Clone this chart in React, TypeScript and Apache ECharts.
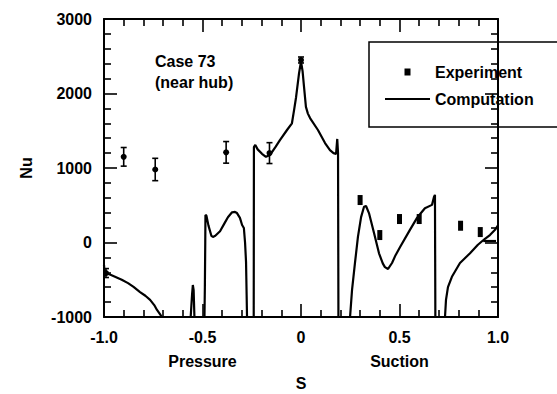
import React, { useEffect, useRef } from "react";
import * as echarts from "echarts";

// Axis ticks / labels
const xMin = -1;
const xMax = 1;
const xInterval = 0.5;
const yMin = -1000;
const yMax = 3000;
const yInterval = 1000;
const xTickLabels: Record<string, string> = { "-1": "-1.0", "-0.5": "-0.5", "0": "0", "0.5": "0.5", "1": "1.0" };
const sideLabels: Record<string, string> = { "-0.5": "Pressure", "0.5": "Suction" };

// Experiment (s, Nu, error half-height)
const expS = [-0.99, -0.9, -0.74, -0.38, -0.16, 0.0];
const expNu = [-410, 1150, 980, 1210, 1200, 2450];
const expErr = [60, 125, 150, 145, 140, 40];
// Suction-side experiment points (drawn as small blocks)
const expS2 = [0.3, 0.4, 0.5, 0.6, 0.81, 0.91];
const expNu2 = [570, 100, 315, 315, 225, 140];

// Computation
const compS = [
  -1.0, -0.997, -0.97, -0.944, -0.91, -0.878, -0.85, -0.817, -0.79, -0.766, -0.745, -0.731, -0.715, -0.706,
  -0.56, -0.553, -0.549, -0.545, -0.541,
  -0.49, -0.488, -0.486, -0.485, -0.48, -0.47, -0.455, -0.447, -0.435, -0.411, -0.39, -0.371, -0.35, -0.335,
  -0.325, -0.31, -0.299, -0.29, -0.284, -0.279, -0.276, -0.274,
  -0.24, -0.239, -0.232, -0.22, -0.198, -0.178, -0.157, -0.13, -0.107, -0.071, -0.046, -0.035, -0.025, -0.01,
  0.0, 0.008, 0.015, 0.025, 0.035, 0.046, 0.086, 0.122, 0.147, 0.165, 0.178, 0.184, 0.188, 0.19,
  0.249, 0.259, 0.274, 0.289, 0.305, 0.32, 0.33, 0.345, 0.371, 0.396, 0.415, 0.426, 0.442, 0.462, 0.48, 0.503,
  0.553, 0.589, 0.61, 0.629, 0.665, 0.675, 0.68, 0.682,
  0.731, 0.736, 0.746, 0.766, 0.807, 0.858, 0.898, 0.934, 0.959, 0.985, 1.0,
];
const compNu = [
  -300, -410, -430, -460, -500, -545, -595, -665, -715, -770, -840, -905, -965, -1000,
  -1000, -700, -570, -640, -1000,
  -1000, -600, 0, 370, 360, 230, 90, 75, 90, 150, 250, 340, 405, 410,
  395, 330, 235, 195, 0, -260, -700, -1000,
  -1000, 1280, 1310, 1250, 1190, 1150, 1175, 1280, 1375, 1510, 1600, 1780, 1950, 2270,
  2430, 2300, 2100, 1820, 1730, 1670, 1510, 1335, 1240, 1200, 1190, 1390, 1200, -1000,
  -1000, -640, -275, 75, 340, 480, 490, 395, 125, -145, -280, -330, -355, -275, -170, -60,
  170, 330, 400, 460, 505, 610, 640, -1000,
  -1000, -770, -600, -460, -275, -145, -30, 50, 100, 170, 230,
];
const branchS = [0.925, 0.99];
const branchNu = [20, 20];

const FONT = "'Liberation Sans', Arial, Helvetica, sans-serif";

export default function App() {
  const ref = useRef<HTMLDivElement>(null);
  useEffect(() => {
    if (!ref.current) return;
    const chart = echarts.init(ref.current, null, { renderer: "svg" });
    const key = (v: number) => String(Math.round(v * 100) / 100);
    const axisLine = () => ({ show: true, onZero: false, lineStyle: { color: "#000", width: 2 } });
    const tick = () => ({ show: true, inside: true, length: 13, lineStyle: { color: "#000", width: 1.6 } });
    const minor = () => ({ show: true, splitNumber: 5, length: 7, lineStyle: { color: "#000", width: 1.6 } });
    const labelStyle = () => ({ color: "#000", fontSize: 16, fontWeight: "bold" as const, fontFamily: FONT });

    const comp = compS.map((s, i) => [s, compNu[i]]);
    const branch = branchS.map((s, i) => [s, branchNu[i]]);
    const exp = expS.map((s, i) => [s, expNu[i], expErr[i]]);
    const exp2 = expS2.map((s, i) => ({ value: [s, expNu2[i]], symbol: "rect", symbolSize: [5, 10] }));

    chart.setOption({
      animation: false,
      backgroundColor: "#fff",
      textStyle: { fontFamily: FONT },
      title: {
        text: "Case 73\n(near hub)",
        left: 155,
        top: 51,
        padding: 0,
        textStyle: { ...labelStyle(), lineHeight: 21 },
      },
      legend: {
        orient: "vertical",
        left: 369,
        top: 42,
        padding: [22, 40, 20, 16],
        itemWidth: 45,
        itemHeight: 7,
        itemGap: 11,
        borderColor: "#000",
        borderWidth: 1.5,
        textStyle: labelStyle(),
        data: [
          { name: "Experiment", icon: "path://M0,0H6V7H0Z" },
          { name: "Computation", icon: "path://M0,0H45V2.2H0Z" },
        ],
      },
      grid: { left: 104, right: 59, top: 19, bottom: 77, outerBoundsMode: "none" },
      xAxis: [
        {
          type: "value",
          position: "bottom",
          min: xMin,
          max: xMax,
          interval: xInterval,
          name: "S",
          nameLocation: "middle",
          nameGap: 58,
          nameTextStyle: labelStyle(),
          axisLine: axisLine(),
          axisTick: tick(),
          minorTick: minor(),
          splitLine: { show: false },
          axisLabel: { ...labelStyle(), margin: 12, formatter: (v: number) => xTickLabels[key(v)] ?? "" },
        },
        {
          type: "value",
          position: "bottom",
          min: xMin,
          max: xMax,
          interval: xInterval,
          axisLine: { show: false, onZero: false },
          axisTick: { show: false },
          splitLine: { show: false },
          axisLabel: { ...labelStyle(), margin: 36, formatter: (v: number) => sideLabels[key(v)] ?? "" },
        },
        {
          type: "value",
          position: "top",
          min: xMin,
          max: xMax,
          interval: xInterval,
          axisLine: axisLine(),
          axisTick: tick(),
          minorTick: minor(),
          splitLine: { show: false },
          axisLabel: { show: false },
        },
      ],
      yAxis: [
        {
          type: "value",
          position: "left",
          min: yMin,
          max: yMax,
          interval: yInterval,
          name: "Nu",
          nameLocation: "middle",
          nameGap: 70,
          nameTextStyle: labelStyle(),
          axisLine: axisLine(),
          axisTick: tick(),
          minorTick: minor(),
          splitLine: { show: false },
          axisLabel: { ...labelStyle(), margin: 12, formatter: (v: number) => String(v) },
        },
        {
          type: "value",
          position: "right",
          min: yMin,
          max: yMax,
          interval: yInterval,
          axisLine: axisLine(),
          axisTick: tick(),
          minorTick: minor(),
          splitLine: { show: false },
          axisLabel: { show: false },
        },
      ],
      series: [
        {
          name: "Computation",
          type: "line",
          xAxisIndex: 0,
          yAxisIndex: 0,
          data: comp,
          showSymbol: false,
          symbol: "none",
          lineStyle: { color: "#000", width: 2.2 },
          itemStyle: { color: "#000" },
          z: 3,
        },
        {
          name: "Computation",
          type: "line",
          xAxisIndex: 0,
          yAxisIndex: 0,
          data: branch,
          showSymbol: false,
          symbol: "none",
          lineStyle: { color: "#000", width: 2.2 },
          itemStyle: { color: "#000" },
          z: 3,
        },
        {
          name: "Experiment",
          type: "scatter",
          xAxisIndex: 0,
          yAxisIndex: 0,
          data: exp,
          symbol: "circle",
          symbolSize: 6,
          itemStyle: { color: "#000", opacity: 1 },
          z: 4,
        },
        {
          name: "Experiment",
          type: "scatter",
          xAxisIndex: 0,
          yAxisIndex: 0,
          data: exp2,
          itemStyle: { color: "#000", opacity: 1 },
          z: 4,
        },
        {
          name: "Experiment",
          type: "custom",
          xAxisIndex: 0,
          yAxisIndex: 0,
          data: exp,
          z: 4,
          renderItem: (_p: any, api: any) => {
            const x = api.value(0);
            const y = api.value(1);
            const e = api.value(2);
            const t = api.coord([x, y + e]);
            const b = api.coord([x, y - e]);
            const c = 3;
            const st = { stroke: "#000", lineWidth: 1.6 };
            return {
              type: "group",
              children: [
                { type: "line", shape: { x1: t[0], y1: t[1], x2: b[0], y2: b[1] }, style: st },
                { type: "line", shape: { x1: t[0] - c, y1: t[1], x2: t[0] + c, y2: t[1] }, style: st },
                { type: "line", shape: { x1: b[0] - c, y1: b[1], x2: b[0] + c, y2: b[1] }, style: st },
              ],
            };
          },
        },
      ],
    });
    return () => chart.dispose();
  }, []);
  return <div ref={ref} style={{ width: 557, height: 394, position: "absolute", left: 0, top: 0 }} />;
}
